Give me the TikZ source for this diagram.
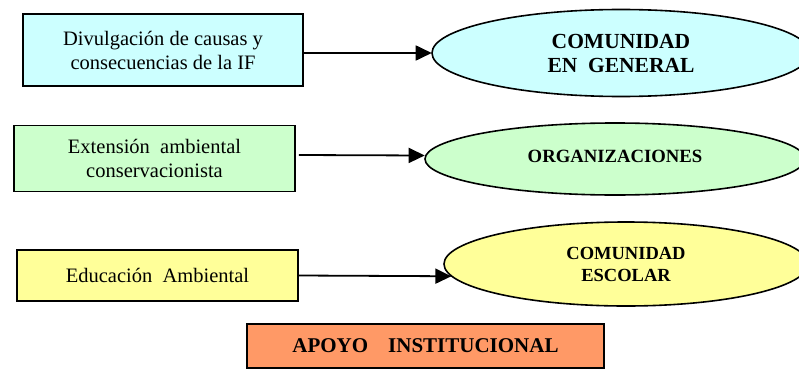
\documentclass[tikz,border=0pt]{standalone}
\usepackage{fontspec}
\setmainfont{Liberation Serif}
\usetikzlibrary{shapes.geometric,arrows.meta}
\definecolor{cyanfill}{HTML}{CCFFFF}
\definecolor{greenfill}{HTML}{CCFFCC}
\definecolor{yellowfill}{HTML}{FFFF99}
\definecolor{orangefill}{HTML}{FF9966}
\tikzset{
  sourcebox/.style={draw=black, line width=1.6pt, rectangle, inner sep=0pt, align=center,
    font=\fontsize{20.5}{24}\selectfont},
  targetell/.style={draw=black, line width=1.6pt, ellipse, inner sep=0pt, align=center,
    font=\fontsize{21.5}{24}\selectfont\bfseries},
  arr/.style={line width=1.8pt, -{Triangle[length=16pt,width=15pt]}, shorten >=-0.5pt}
}
\begin{document}
\begin{tikzpicture}[x=1pt,y=-1pt]
\useasboundingbox (0,0) rectangle (799,369);
\clip (0,0) rectangle (799,369);
\fill[white] (0,0) rectangle (799,369);

\node[sourcebox, fill=cyanfill, minimum width=280pt, minimum height=72pt] (box1) at (163,50)
  {Divulgación de causas y\\consecuencias de la IF};
\node[sourcebox, fill=greenfill, minimum width=281pt, minimum height=66pt] (box2) at (154.5,158.5)
  {Extensión\ \ ambiental\\conservacionista};
\node[sourcebox, fill=yellowfill, minimum width=281pt, minimum height=51pt] (box3) at (157.5,275.5)
  {Educación\ \ Ambiental};
\node[sourcebox, fill=orangefill, minimum width=357pt, minimum height=44pt,
  font=\fontsize{21}{24}\selectfont\bfseries] (box4) at (425.5,346)
  {APOYO\hspace{20pt}INSTITUCIONAL};

\node[targetell, fill=cyanfill, minimum width=378pt, minimum height=87pt] (ell1) at (621,53)
  {COMUNIDAD\\EN\ \ GENERAL};
\node[targetell, fill=greenfill, minimum width=380pt, minimum height=72pt,
  font=\fontsize{18.7}{22}\selectfont\bfseries] (ell2) at (615,159)
  {\raisebox{6pt}{ORGANIZACIONES}};
\node[targetell, fill=yellowfill, minimum width=364pt, minimum height=84pt,
  font=\fontsize{18.5}{22}\selectfont\bfseries] (ell3) at (626,264)
  {COMUNIDAD\\ESCOLAR};

\draw[arr] (box1.east |- ell1.west) -- (ell1.west);
\draw[arr] ([xshift=3pt,yshift=3.5pt]box2.east) -- ([yshift=3.5pt]ell2.west);
\draw[arr] (box3.east) -- (ell3.184);
\end{tikzpicture}
\end{document}
